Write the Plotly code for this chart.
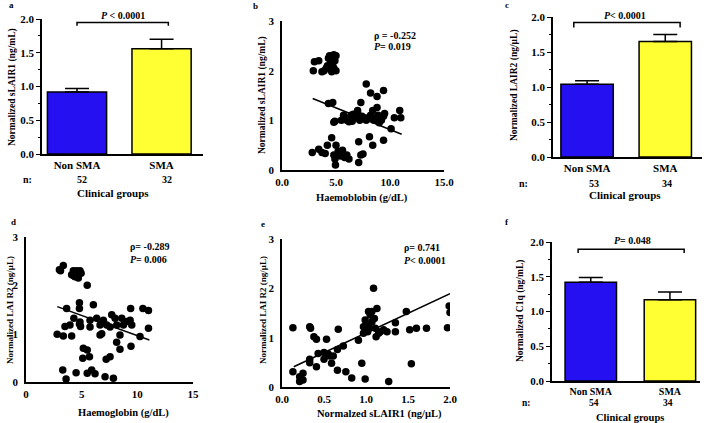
import plotly.graph_objects as go

W, H = 710, 423

# ---------------- data ----------------
# Panel a: sLAIR1 by clinical group
a_groups = ["Non SMA", "SMA"]
a_means = [0.92, 1.56]
a_sem = [0.05, 0.14]
a_n = ["52", "32"]

# Panel c: LAIR2 by clinical group
c_groups = ["Non SMA", "SMA"]
c_means = [1.04, 1.65]
c_sem = [0.05, 0.10]
c_n = ["53", "34"]

# Panel f: C1q by clinical group
f_groups = ["Non SMA", "SMA"]
f_means = [1.42, 1.17]
f_sem = [0.07, 0.11]
f_n = ["54", "34"]

# Panel b: haemoglobin vs sLAIR1
b_x = [2.9, 3.0, 3.4, 3.7, 3.9, 4.1, 4.3, 4.5, 4.6, 4.7, 4.8, 4.9, 5.0, 4.8, 4.6, 4.4, 5.0, 4.2,
       4.3, 4.7, 4.8, 4.9,
       7.8, 8.2, 8.8, 9.4, 7.3, 8.8, 9.5, 10.9, 10.4, 11.0, 10.1,
       5.7, 5.9, 6.0, 6.2, 6.4, 6.6, 6.8, 7.0, 7.2, 7.4, 7.6, 7.8, 8.0, 8.2, 8.5, 8.7, 8.9, 9.2,
       9.4, 5.5, 6.5, 7.0, 8.4, 9.0,
       2.8, 3.4, 3.7, 4.0, 4.2, 4.6, 4.8, 4.9, 4.95, 5.0, 5.2, 5.4, 5.6, 5.8, 6.0, 6.2,
       7.1, 7.1, 7.3, 7.5, 8.1, 8.4, 9.4]
b_y = [2.0, 2.18, 2.2, 1.98, 2.0, 2.05, 2.25, 2.15, 2.3, 2.1, 2.32, 2.2, 2.0, 2.05, 1.98, 2.3, 2.3, 2.1,
       1.34, 1.36, 0.96, 0.98,
       1.73, 1.55, 1.48, 1.6, 1.36, 1.26, 1.14, 1.2, 1.05, 1.05, 0.83,
       1.1, 1.05, 1.0, 0.97, 1.1, 1.12, 1.05, 1.15, 1.0, 1.08, 1.05, 1.0, 1.05, 1.1, 1.0, 1.05, 1.1, 1.0,
       1.08, 1.0, 0.98, 1.2, 1.2, 0.95,
       0.35, 0.42, 0.35, 0.33, 0.5, 0.65, 0.3, 0.22, 0.1, 0.5, 0.38, 0.28, 0.4, 0.25, 0.3, 0.22,
       0.15, 0.57, 0.3, 0.32, 0.67, 0.5, 0.6]
b_fit_x = [2.84, 11.08]
b_fit_y = [1.44, 0.72]

# Panel d: haemoglobin vs LAIR2
d_x = [3.0, 3.35, 3.1, 4.1, 4.25, 4.4, 4.55, 4.7, 4.85, 4.7, 4.3, 4.95, 5.5,
       3.65, 4.8, 4.8, 6.05, 3.5, 3.95, 4.3, 4.8, 4.9, 4.85,
       5.75, 5.75, 6.35, 6.65, 6.95, 7.25, 7.55, 7.7, 8.0, 8.15, 8.6, 8.75, 9.05, 9.35, 9.5,
       9.4, 10.5, 11.0, 11.0, 10.24, 9.43, 8.44, 8.14, 8.44,
       2.8, 3.35, 4.1, 6.65, 6.8, 5.15, 5.5, 5.1, 5.7, 7.2, 7.55,
       3.3, 3.6, 4.5, 5.5, 5.9, 6.2, 7.1, 7.85]
d_y = [2.32, 2.41, 2.3, 2.22, 2.3, 2.18, 2.3, 2.22, 2.3, 2.15, 2.2, 2.25, 2.0,
       1.52, 1.64, 1.52, 1.6, 1.15, 1.18, 1.32, 1.2, 1.15, 1.24,
       1.28, 1.14, 1.32, 1.18, 1.28, 1.18, 1.14, 1.39, 1.32, 1.18, 1.32, 1.18, 1.25, 1.28, 1.18,
       1.52, 1.52, 1.48, 1.11, 0.94, 0.74, 0.97, 0.82, 0.68,
       0.99, 0.95, 0.95, 0.97, 1.0, 0.7, 0.66, 0.49, 0.52, 0.47, 0.52,
       0.25, 0.06, 0.19, 0.18, 0.25, 0.17, 0.11, 0.08]
d_fit_x = [2.81, 11.08]
d_fit_y = [1.56, 0.87]

# Panel e: sLAIR1 vs LAIR2
e_x = [0.13, 0.33, 0.34, 0.38, 0.41, 0.53, 0.67, 0.13, 0.21, 0.21, 0.25, 0.25,
       0.33, 0.33, 0.41, 0.43, 0.50, 0.50, 0.55, 0.57, 0.59, 0.61, 0.66, 0.66, 0.73, 0.76,
       0.83, 0.91, 0.95, 0.99, 0.97, 0.97, 0.99, 1.00, 1.03, 1.09, 1.07, 1.05, 1.07, 1.10,
       1.11, 1.12, 1.13, 1.15, 1.17, 1.21, 1.25, 1.27, 1.35, 1.35, 1.48, 1.52, 1.54, 1.60,
       1.72, 1.97, 1.99, 2.00, 1.04, 1.02]
e_y = [1.20, 1.22, 1.19, 1.02, 0.97, 0.97, 1.17, 0.31, 0.21, 0.11, 0.14, 0.28,
       0.56, 0.49, 0.41, 0.68, 0.70, 0.56, 0.67, 0.63, 0.48, 0.63, 0.76, 0.34, 0.83, 0.31,
       0.18, 0.95, 0.48, 0.16, 1.09, 1.22, 1.36, 1.26, 1.53, 2.00, 1.53, 1.46, 1.32, 1.39,
       1.19, 1.02, 1.59, 1.09, 1.12, 1.16, 1.12, 0.11, 1.30, 1.12, 1.53, 1.16, 0.47, 1.19,
       1.19, 1.20, 1.64, 1.51, 1.19, 1.12]
e_fit_x = [0.14, 2.0]
e_fit_y = [0.41, 1.89]

# ---------------- helpers ----------------
def px(x):
    return x / W

def py(y):
    return 1 - y / H

BLUE = "#2410F0"
YELLOW = "#FFFF33"
FONT = "Liberation Serif"

fig = go.Figure()
layout = dict(
    width=W, height=H, margin=dict(l=0, r=0, t=0, b=0, autoexpand=False),
    paper_bgcolor="white", plot_bgcolor="white", showlegend=False,
)
annotations = []
shapes = []

def ann(text, x, y, size=10, xanchor="center", angle=0):
    annotations.append(dict(
        text=text, x=px(x), y=py(y), xref="paper", yref="paper",
        xanchor=xanchor, yanchor="middle", showarrow=False, textangle=angle,
        font=dict(family=FONT, size=size, color="black", weight="bold"),
    ))

def axis_common():
    return dict(
        showline=True, linecolor="black", linewidth=1.5, showgrid=False, zeroline=False,
        ticks="outside", ticklen=4, tickwidth=1.3, tickcolor="black",
        tickfont=dict(family=FONT, size=11, color="black", weight="bold"),
    )

def bar_panel(idx, groups, means, sem, xdom, ydom, xrange, width, ticksize=11):
    xa = "x" if idx == 1 else f"x{idx}"
    ya = "y" if idx == 1 else f"y{idx}"
    fig.add_trace(go.Bar(
        x=[0, 1], y=means, width=width, xaxis=xa, yaxis=ya,
        marker=dict(color=[BLUE, YELLOW], line=dict(color="black", width=1.5)),
        error_y=dict(type="data", symmetric=False, array=sem, arrayminus=[0, 0],
                     color="black", thickness=1.5, width=12),
    ))
    xk = "xaxis" if idx == 1 else f"xaxis{idx}"
    yk = "yaxis" if idx == 1 else f"yaxis{idx}"
    xax = axis_common()
    xax.update(domain=xdom, range=xrange, anchor=ya, tickvals=[0, 1], ticktext=groups,
               ticks="", fixedrange=True)
    xax["tickfont"] = dict(family=FONT, size=ticksize, color="black", weight="bold")
    yax = axis_common()
    yax.update(domain=ydom, range=[0, 2.0], anchor=xa, dtick=0.5, tickformat=".1f",
               fixedrange=True,
               minor=dict(dtick=0.25, ticklen=2.5, tickcolor="black", ticks="outside", tickwidth=1.2))
    layout[xk] = xax
    layout[yk] = yax
    return xa, ya

def bracket(xa, ya, x0, x1, ytop, ybot):
    shapes.append(dict(
        type="path", xref=xa, yref=ya,
        path=f"M {x0},{ybot} L {x0},{ytop} L {x1},{ytop} L {x1},{ybot}",
        line=dict(color="black", width=1.5),
    ))

def frange(start, stop, step):
    vals = []
    k = 0
    while start + k * step <= stop + 1e-9:
        vals.append(round(start + k * step, 6))
        k += 1
    return vals

def scatter_frame(xa, ya, xdom_px, ydom_px, xrange, xdtick, xminor, yminor):
    # axis frame drawn as line-shaped markers (not clipped) along the axes
    lenx = xdom_px[1] - xdom_px[0]
    leny = ydom_px[0] - ydom_px[1]
    ux = lenx / (xrange[1] - xrange[0])
    uy = leny / 3.0
    fx, fy, sym, size, lw = [], [], [], [], []
    x0 = xrange[0] - 0.75 / ux
    y0 = -0.75 / uy
    # axis lines
    fx.append(x0); fy.append(1.5 - 0.5 / uy); sym.append("line-ns"); size.append(leny + 2); lw.append(1.5)
    fx.append((xrange[0] + xrange[1]) / 2 - 0.5 / ux); fy.append(y0); sym.append("line-ew"); size.append(lenx + 2); lw.append(1.5)
    # x ticks
    for v in frange(xrange[0], xrange[1], xdtick):
        fx.append(v); fy.append(y0 - 2.0 / uy); sym.append("line-ns"); size.append(4); lw.append(1.3)
    if xminor:
        for v in frange(xrange[0] + xminor, xrange[1], xdtick):
            fx.append(v); fy.append(y0 - 1.25 / uy); sym.append("line-ns"); size.append(2.5); lw.append(1.2)
    # y ticks
    for v in frange(0, 3, 1):
        fx.append(x0 - 2.0 / ux); fy.append(v); sym.append("line-ew"); size.append(4); lw.append(1.3)
    if yminor:
        for v in frange(yminor, 3, 1):
            fx.append(x0 - 1.25 / ux); fy.append(v); sym.append("line-ew"); size.append(2.5); lw.append(1.2)
    fig.add_trace(go.Scatter(
        x=fx, y=fy, mode="markers", xaxis=xa, yaxis=ya, cliponaxis=False, hoverinfo="skip",
        marker=dict(symbol=sym, size=size, color="black", line=dict(color="black", width=lw)),
    ))

def scatter_panel(idx, xs, ys, fx, fy, xdom_px, ydom_px, xrange, xdtick, xfmt, xminor, yminor):
    xa = f"x{idx}"
    ya = f"y{idx}"
    xdom = [px(xdom_px[0]), px(xdom_px[1])]
    ydom = [py(ydom_px[0]), py(ydom_px[1])]
    fig.add_trace(go.Scatter(
        x=xs, y=ys, mode="markers", xaxis=xa, yaxis=ya,
        marker=dict(color="black", size=7.5, line=dict(width=0)),
    ))
    fig.add_trace(go.Scatter(
        x=fx, y=fy, mode="lines", xaxis=xa, yaxis=ya,
        line=dict(color="black", width=1.5),
    ))
    xax = axis_common()
    xax.update(domain=xdom, range=xrange, anchor=ya, dtick=xdtick, tickformat=xfmt,
               fixedrange=True, ticks="", ticklabelstandoff=1)
    yax = axis_common()
    yax.update(domain=ydom, range=[0, 3], anchor=xa, dtick=1, tickformat="d",
               fixedrange=True, ticks="", ticklabelstandoff=4)
    layout[f"xaxis{idx}"] = xax
    layout[f"yaxis{idx}"] = yax
    scatter_frame(xa, ya, xdom_px, ydom_px, xrange, xdtick, xminor, yminor)

# ---------------- panel a ----------------
xa, ya = bar_panel(1, a_groups, a_means, a_sem,
                   [px(42), px(203)], [py(154), py(19)], [-0.414, 1.49], 0.7)
bracket(xa, ya, 0, 1.08, 1.95, 1.90)
ann("<i>P</i> < 0.0001", 123, 15, size=10)
ann("n:", 27, 180, size=10)
ann(a_n[0], 82, 180, size=10)
ann(a_n[1], 167, 180, size=10)
ann("Clinical groups", 113, 193, size=11)
ann("Normalized sLAIR1 (ng/mL)", 13, 87, size=9.5, angle=-90)
ann("a", 12, 5, size=9)

# ---------------- panel b ----------------
scatter_panel(2, b_x, b_y, b_fit_x, b_fit_y,
              [282, 444], [170, 21], [0, 15], 5, ".1f", 2.5, 0.5)
ann("ρ = -0.252", 372, 35, size=10, xanchor="left")
ann("<i>P</i>= 0.019", 372, 46, size=10, xanchor="left")
ann("Haemoblobin (g/dL)", 362, 198, size=10.5)
ann("Normalized sLAIR1 (ng/mL)", 262, 95, size=9.5, angle=-90)
ann("b", 255, 6, size=9)

# ---------------- panel c ----------------
xa, ya = bar_panel(3, c_groups, c_means, c_sem,
                   [px(553), px(702)], [py(157), py(17)], [-0.436, 1.47], 0.67)
bracket(xa, ya, -0.17, 1.19, 1.92, 1.85)
ann("<i>P</i>< 0.0001", 625, 15, size=10)
ann("n:", 523, 183, size=10)
ann(c_n[0], 594, 183, size=10)
ann(c_n[1], 667, 183, size=10)
ann("Clinical groups", 625, 195, size=11)
ann("Normalized LAIR2 (ng/µL)", 515, 85, size=9.5, angle=-90)
ann("c", 507, 5, size=9)

# ---------------- panel d ----------------
scatter_panel(4, d_x, d_y, d_fit_x, d_fit_y,
              [26, 193], [382, 237], [0, 15], 5, "d", None, None)
ann("ρ= -0.289", 128, 247, size=10, xanchor="left")
ann("<i>P</i>= 0.006", 128, 259, size=10, xanchor="left")
ann("Haemoglobin (g/dL)", 123, 413, size=10.5)
ann("Normalized LAI R2 (ng/µL)", 10, 310, size=9, angle=-90)
ann("d", 13, 222, size=9)

# ---------------- panel e ----------------
scatter_panel(5, e_x, e_y, e_fit_x, e_fit_y,
              [282, 450], [387, 239], [0, 2.0], 0.5, ".1f", None, 0.5)
ann("ρ= 0.741", 402, 248, size=10, xanchor="left")
ann("<i>P</i>< 0.0001", 402, 260, size=10, xanchor="left")
ann("Normalzed sLAIR1 (ng/µL)", 380, 414, size=10.5)
ann("Normalized LAI R2 (ng/µL)", 263, 310, size=9, angle=-90)
ann("e", 263, 224, size=9)

# ---------------- panel f ----------------
xa, ya = bar_panel(6, f_groups, f_means, f_sem,
                   [px(552), px(700)], [py(381), py(242)], [-0.49, 1.38], 0.65, ticksize=10)
bracket(xa, ya, -0.16, 1.18, 1.895, 1.84)
ann("<i>P</i>= 0.048", 632, 240, size=10)
ann("n:", 526, 403, size=9.5)
ann(f_n[0], 594, 403, size=9.5)
ann(f_n[1], 668, 403, size=9.5)
ann("Clinical groups", 630, 417, size=10.5)
ann("Normalized C1q (ng/mL)", 520, 311, size=9.5, angle=-90)
ann("f", 507, 222, size=9)

layout["annotations"] = annotations
layout["shapes"] = shapes
fig.update_layout(**layout)
fig.write_html("out.html", config={"displayModeBar": False},
               post_script="document.body.style.margin='0';")
